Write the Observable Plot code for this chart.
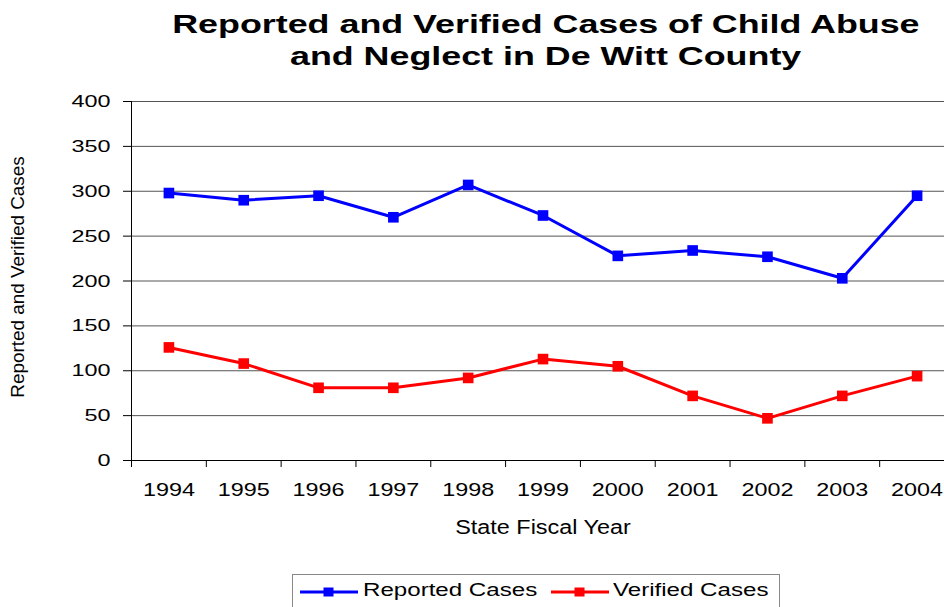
<!DOCTYPE html>
<html>
<head>
<meta charset="utf-8">
<script src="https://cdn.jsdelivr.net/npm/d3@7"></script>
<script src="https://cdn.jsdelivr.net/npm/@observablehq/plot@0.6"></script>
<style>
  body { margin: 0; background: #fff; font-family: "Liberation Sans", Arial, sans-serif; }
  #chart { position: relative; width: 944px; height: 607px; overflow: hidden; background: #fff; }
  #title { height: 80px; box-sizing: border-box; padding-top: 8px; padding-left: 148px;
           text-align: center; font-weight: bold; font-size: 25.6px; line-height: 32px; color: #000; }
  #title span { display: inline-block; white-space: nowrap; transform: scaleX(1.4); transform-origin: 50% 50%; }
  #plot svg { display: block; }
  #legend { position: relative; height: 47px; }
  #legend .box { position: absolute; left: 292px; top: 14px; width: 488px; height: 60px; border: 1.5px solid #888; box-sizing: border-box; }
  #legend .sw { position: absolute; top: 25px; }
  #legend .lab { position: absolute; top: 21px; font-size: 18.7px; line-height: 18.7px; color: #000;
                 white-space: nowrap; transform: scaleX(1.29); transform-origin: 0 50%; }
</style>
</head>
<body>
<div id="chart">
  <div id="title"><span>Reported and Verified Cases of Child Abuse</span><br><span>and Neglect in De Witt County</span></div>
  <div id="plot"></div>
  <div id="legend"><div class="box"></div></div>
</div>
<script>
// State fiscal years shown on the x axis
const years = [1994, 1995, 1996, 1997, 1998, 1999, 2000, 2001, 2002, 2003, 2004];
// Cases reported each year
const reported = [298, 290, 295, 271, 307, 273, 228, 234, 227, 203, 295];
// Cases verified each year
const verified = [126, 108, 81, 81, 92, 113, 105, 72, 47, 72, 94];
// Y axis tick values
const yTicks = [0, 50, 100, 150, 200, 250, 300, 350, 400];
const seriesNames = ["Reported Cases", "Verified Cases"];
const seriesColors = ["#0000ff", "#ff0000"];
const xLabel = "State Fiscal Year";
const yLabel = "Reported and Verified Cases";

const rows = [
  ...years.map((year, i) => ({year, value: reported[i], series: seriesNames[0]})),
  ...years.map((year, i) => ({year, value: verified[i], series: seriesNames[1]}))
];
// Tick marks sit on the boundaries between years
const bounds = [...years.map(y => y - 0.5), years[years.length - 1] + 0.5];

const chart = Plot.plot({
  width: 944,
  height: 480,
  marginTop: 21,
  marginBottom: 100,
  marginLeft: 131,
  marginRight: -10,
  style: {fontFamily: "'Liberation Sans', Arial, sans-serif", color: "#000", background: "#fff", overflow: "hidden"},
  x: {type: "linear", domain: [bounds[0], bounds[bounds.length - 1]]},
  y: {domain: [0, 400]},
  color: {domain: seriesNames, range: seriesColors},
  marks: [
    Plot.gridY({ticks: yTicks, stroke: "#555", strokeOpacity: 1, strokeWidth: 1}),
    Plot.ruleY([0], {stroke: "#000", strokeWidth: 1}),
    Plot.ruleX([bounds[0]], {stroke: "#000", strokeWidth: 1}),
    Plot.axisY({ticks: yTicks, tickSize: 8, tickPadding: 13, fontSize: 17.2, label: null, stroke: "#000"}),
    Plot.axisX({ticks: bounds, tickSize: 7, tickFormat: () => "", label: null, stroke: "#000"}),
    Plot.axisX({ticks: years, tickSize: 0, tickPadding: 23, fontSize: 17.7, tickFormat: d => String(d), label: null}),
    Plot.text([xLabel], {frameAnchor: "bottom", dy: 73.6, fontSize: 20}),
    Plot.text([yLabel], {frameAnchor: "left", textAnchor: "middle", rotate: -90, dx: -113.5, dy: -4, fontSize: 18.9}),
    Plot.line(rows, {x: "year", y: "value", z: "series", stroke: "series", strokeWidth: 3}),
    Plot.dot(rows, {x: "year", y: "value", fill: "series", symbol: "square", r: 6})
  ]
});
document.getElementById("plot").append(chart);

// Widen horizontal labels to the chart's broad lettering
function widen(texts, k) {
  texts.forEach(t => {
    const w = t.getComputedTextLength();
    if (w > 0) {
      t.setAttribute("textLength", w * k);
      t.setAttribute("lengthAdjust", "spacingAndGlyphs");
    }
  });
}
const allTexts = [...chart.querySelectorAll("text")];
widen(chart.querySelectorAll('g[aria-label="x-axis tick label"] text'), 1.32);
widen(chart.querySelectorAll('g[aria-label="y-axis tick label"] text'), 1.36);
widen(allTexts.filter(t => t.textContent === xLabel), 1.17);

// Legend: line-and-marker swatch followed by the series name
const legend = document.getElementById("legend");
const swatchLeft = [300, 551];
const labelLeft = [363, 613];
seriesNames.forEach((name, i) => {
  const sw = document.createElementNS("http://www.w3.org/2000/svg", "svg");
  sw.setAttribute("class", "sw");
  sw.setAttribute("width", 58);
  sw.setAttribute("height", 14);
  sw.style.left = swatchLeft[i] + "px";
  sw.innerHTML = `<line x1="0" x2="58" y1="7" y2="7" stroke="${seriesColors[i]}" stroke-width="3"/>` +
                 `<rect x="23.5" y="2.5" width="10" height="9" fill="${seriesColors[i]}"/>`;
  legend.append(sw);
  const lab = document.createElement("span");
  lab.className = "lab";
  lab.style.left = labelLeft[i] + "px";
  lab.textContent = name;
  legend.append(lab);
});
</script>
</body>
</html>
